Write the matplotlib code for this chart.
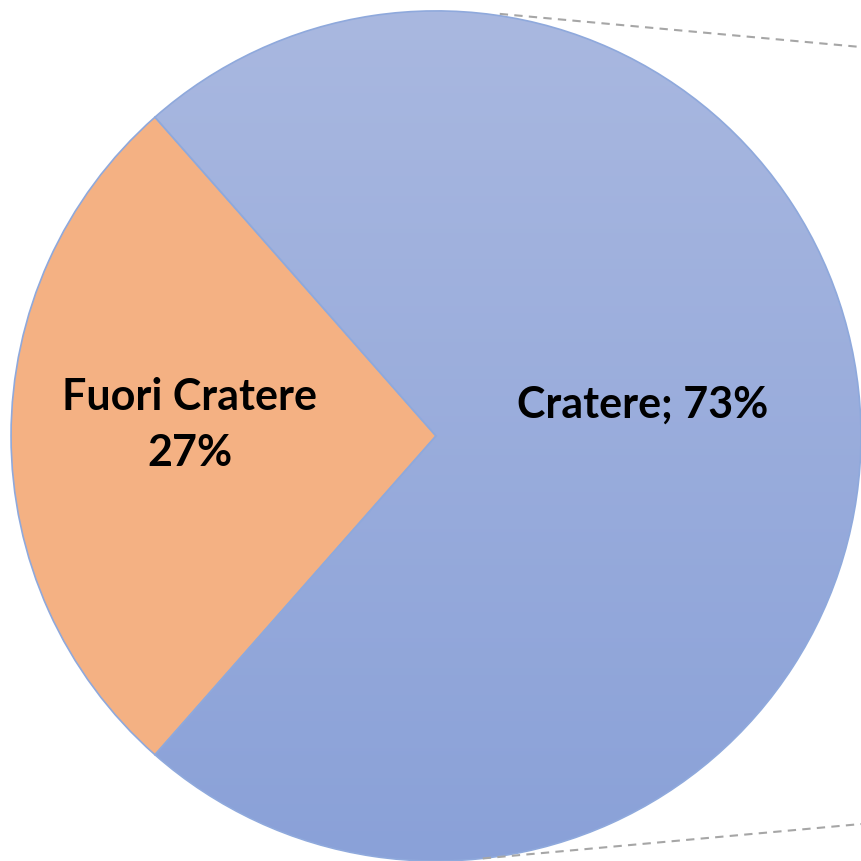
import numpy as np
import matplotlib
matplotlib.use('Agg')
import matplotlib.pyplot as plt
from matplotlib.colors import LinearSegmentedColormap

labels = ['Cratere', 'Fuori Cratere']
values = [73, 27]
colors = ['#9AAEDD', '#F4B183']
label_texts = ['Cratere; 73%', 'Fuori Cratere\n27%']


def main():
    fig = plt.figure(figsize=(8.61, 8.62), dpi=100)
    ax = fig.add_axes([0, 0, 1, 1])

    start = 180 + values[1] / sum(values) * 360 / 2
    wedges, _ = ax.pie(values, colors=colors, startangle=start, radius=1.0,
                       wedgeprops=dict(edgecolor='#8FA9DC', linewidth=1.2))

    # gradient on the blue wedge
    cmap = LinearSegmentedColormap.from_list('blu', ['#8AA1D8', '#A9B8E0'])
    grad = np.linspace(0, 1, 256).reshape(-1, 1)
    im = ax.imshow(grad, cmap=cmap, extent=[-1, 1, -1, 1], origin='lower',
                   aspect='auto', zorder=wedges[0].get_zorder() + 0.1)
    im.set_clip_path(wedges[0])
    wedges[0].set_facecolor('none')
    wedges[0].set_zorder(im.get_zorder() + 0.1)

    # connector lines towards the second pie
    ax.plot([0.15, 1.0], [0.993, 0.915], ls=(0, (4, 3)), color='#A6A6A6', lw=1.5)
    ax.plot([0.11, 1.0], [-0.994, -0.913], ls=(0, (4, 3)), color='#A6A6A6', lw=1.5)

    font = ['Lato', 'DejaVu Sans']
    ax.text(0.485, 0.075, label_texts[0], ha='center', va='center',
            fontsize=31, fontweight='bold', family=font)
    ax.text(-0.58, 0.028, label_texts[1], ha='center', va='center',
            fontsize=31, fontweight='bold', family=font, linespacing=1.5)

    ax.set_aspect('auto')
    ax.set_xlim(-1.026, 1.0)
    ax.set_ylim(-1.0, 1.028)
    ax.axis('off')

    plt.savefig('out.png', dpi=100)


if __name__ == '__main__':
    main()
